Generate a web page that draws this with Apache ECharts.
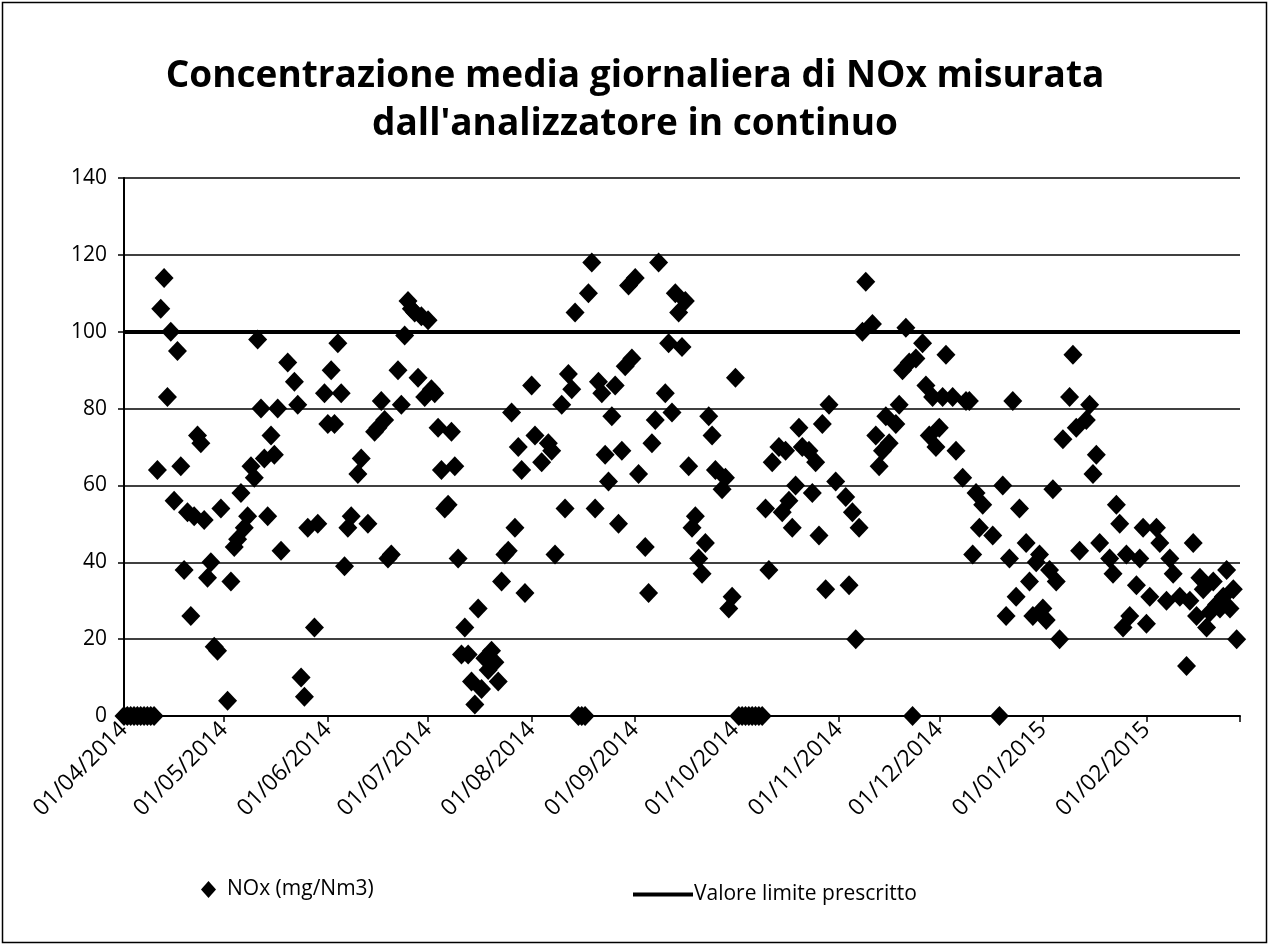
<!DOCTYPE html>
<html><head><meta charset="utf-8">
<script src="https://cdn.jsdelivr.net/npm/echarts@6/dist/echarts.min.js"></script>
<style>html,body{margin:0;padding:0;background:#fff}#c{width:1270px;height:947px}</style>
</head><body><div id="c"></div>
<script>
// ---- data ----
const titleText = "Concentrazione media giornaliera di NOx misurata\ndall'analizzatore in continuo";
const startDate = '2014-04-01';
const endDate = '2015-03-01';
const seriesNames = ['NOx (mg/Nm3)', 'Valore limite prescritto'];
const limitValue = 100;
const yTicks = [0, 20, 40, 60, 80, 100, 120, 140];
// daily mean NOx, one value per day starting 01/04/2014 (null = no data)
const noxValues = [
  0,0,0,0,0,0,0,0,0,0,
  64,106,114,83,100,56,95,65,38,53,
  26,52,73,71,51,36,40,18,17,54,
  null,4,35,44,46,58,49,52,65,62,
  98,80,67,52,73,68,80,43,null,92,
  null,87,81,10,5,49,null,23,50,null,
  84,76,90,76,97,84,39,49,52,null,
  63,67,null,50,null,74,75,82,77,41,
  42,null,90,81,99,108,106,105,88,104,
  83,103,85,84,75,64,54,55,74,65,
  41,16,23,16,9,3,28,7,15,12,
  17,14,9,35,42,43,79,49,70,64,
  32,null,86,73,null,66,null,71,69,42,
  null,81,54,89,85,105,0,0,0,110,
  118,54,87,84,68,61,78,86,50,69,
  91,112,93,114,63,null,44,32,71,77,
  118,null,84,97,79,110,105,96,108,65,
  49,52,41,37,45,78,73,64,null,59,
  62,28,31,88,0,0,0,0,0,0,
  0,0,54,38,66,null,70,53,69,56,
  49,60,75,70,null,69,58,66,47,76,
  33,81,null,61,null,null,57,34,53,20,
  49,100,113,null,102,73,65,69,78,71,
  null,76,81,90,101,92,0,93,null,97,
  86,73,83,70,75,83,94,null,83,69,
  null,62,82,82,42,58,49,55,null,null,
  47,null,0,60,26,41,82,31,54,null,
  45,35,26,40,42,28,25,38,59,35,
  20,72,null,83,94,75,43,null,77,81,
  63,68,45,null,null,41,37,55,50,23,
  42,26,null,34,41,49,24,31,null,49,
  45,null,30,41,37,null,31,null,13,30,
  45,26,36,33,23,27,35,29,28,31,
  38,28,33,20
];

// ---- build categories (one per day) ----
function pad(n){return n<10?'0'+n:''+n;}
const categories = [];
{
  const d = new Date(startDate + 'T00:00:00Z');
  const e = new Date(endDate + 'T00:00:00Z');
  while (d <= e) {
    categories.push(pad(d.getUTCDate()) + '/' + pad(d.getUTCMonth()+1) + '/' + d.getUTCFullYear());
    d.setUTCDate(d.getUTCDate()+1);
  }
}
const lastIdx = categories.length - 1;
const scatterData = categories.map((c,i) => (i < noxValues.length && noxValues[i] !== null) ? noxValues[i] : '-');

const FONT = 'Open Sans';
const chart = echarts.init(document.getElementById('c'), null, {renderer:'canvas'});
chart.setOption({
  animation: false,
  backgroundColor: '#fff',
  textStyle: {fontFamily: FONT, color:'#000'},
  title: {
    text: titleText, left: 'center', top: 47,
    textStyle: {fontFamily: FONT, fontSize: 37, fontWeight: 'bold', color: '#000', lineHeight: 48}
  },
  graphic: [{type:'rect', shape:{x:2.5, y:2.5, width:1264, height:940}, style:{fill:'none', stroke:'#000', lineWidth:1.5}, silent:true}],
  legend: [
    {data:[{name: seriesNames[0], icon:'diamond'}], left: 196, top: 874, itemWidth: 15, itemHeight: 17, itemGap: 0,
     textStyle:{fontFamily: FONT, fontSize: 21, color:'#000', padding:[0,0,0,6]}},
    {data:[{name: seriesNames[1], icon:'rect'}], left: 628, top: 879, itemWidth: 60, itemHeight: 4, itemGap: 0,
     textStyle:{fontFamily: FONT, fontSize: 21, color:'#000', padding:[0,0,0,-4]}}
  ],
  grid: {left: 124, right: 30, top: 178, bottom: 231, containLabel: false},
  xAxis: {
    type: 'category', data: categories, boundaryGap: false,
    axisLine: {show:true, lineStyle:{color:'#000', width:2}},
    axisTick: {show:true, length:6, lineStyle:{color:'#000', width:1.5},
      interval: (i, v) => v.startsWith('01/') || i === lastIdx},
    axisLabel: {rotate:45, fontFamily: FONT, fontSize:23, color:'#000', margin:10,
      interval: (i, v) => v.startsWith('01/') && i !== lastIdx},
    splitLine: {show:false}
  },
  yAxis: {
    type: 'value', min: yTicks[0], max: yTicks[yTicks.length-1], interval: 20,
    axisLine: {show:true, lineStyle:{color:'#000', width:2}},
    axisTick: {show:true, length:6, lineStyle:{color:'#000', width:1.5}},
    axisLabel: {fontFamily: FONT, fontSize:21, color:'#000', margin:17},
    splitLine: {show:true, lineStyle:{color:'#000', width:1.5}}
  },
  series: [
    {name: seriesNames[0], type:'scatter', data: scatterData, symbol:'diamond', symbolSize:[19,20],
     itemStyle:{color:'#000', opacity:1}, z:3},
    {name: seriesNames[1], type:'line', data: [], itemStyle:{color:'#000'}, lineStyle:{color:'#000', width:4},
     markLine:{silent:true, symbol:['none','none'], label:{show:false}, lineStyle:{color:'#000', width:4, type:'solid'},
       data:[{yAxis: limitValue}]}, z:4}
  ]
});
</script></body></html>
